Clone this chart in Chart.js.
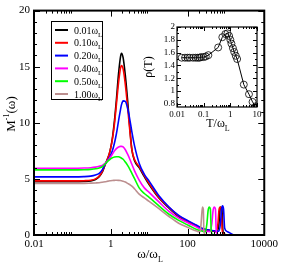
<!DOCTYPE html>
<html>
<head>
<meta charset="UTF-8">
<title>Inverse memory function</title>
<script src="https://cdn.jsdelivr.net/npm/chart.js"></script>
<style>
  body { margin: 0; background: #fff; }
  #wrap { position: relative; width: 281px; height: 266px; }
  #main { position: absolute; left: 0; top: 0; }
  #inset { position: absolute; left: 140px; top: 10px; }
</style>
</head>
<body>
<div id="wrap">
  <canvas id="main" width="281" height="266"></canvas>
  <canvas id="inset" width="141" height="125"></canvas>
</div>
<script>
// shared frequency grid (omega / omega_L) for the smooth part
const omega = [0.01, 0.1, 0.2, 0.3, 0.4, 0.5, 0.6, 0.72, 0.85, 0.96, 1.1, 1.25, 1.4, 1.6, 1.8, 1.9, 2.1, 2.4, 2.75, 3.1, 3.55, 4.2, 5.5, 7.5, 10, 18, 33, 59, 107, 173];

const m001 = [4.75, 4.75, 4.77, 4.82, 4.95, 5.2, 5.6, 6.3, 6.9, 7.5, 8.6, 10.2, 12.0, 14.4, 15.9, 16.2, 15.8, 14.2, 12.0, 9.8, 7.6, 6.6, 6.0, 5.2, 4.5, 3.3, 2.4, 1.65, 1.15, 0.8];
const m010 = [4.82, 4.82, 4.84, 4.88, 5.0, 5.25, 5.65, 6.3, 6.9, 7.5, 8.5, 9.9, 11.6, 13.6, 14.9, 15.1, 14.8, 13.4, 11.4, 9.5, 7.6, 6.7, 6.1, 5.3, 4.6, 3.35, 2.45, 1.7, 1.18, 0.82];
const m020 = [5.18, 5.18, 5.2, 5.25, 5.35, 5.5, 5.8, 6.35, 6.7, 7.0, 7.5, 8.2, 9.0, 10.2, 11.2, 11.6, 11.95, 11.9, 11.3, 10.4, 9.2, 7.9, 6.4, 5.4, 4.8, 3.5, 2.5, 1.75, 1.24, 0.87];
const m040 = [5.95, 5.95, 5.97, 6.0, 6.05, 6.12, 6.2, 6.4, 6.65, 6.9, 7.2, 7.5, 7.7, 7.85, 7.9, 7.9, 7.85, 7.6, 7.2, 6.8, 6.3, 5.7, 4.9, 4.2, 3.8, 2.95, 2.1, 1.5, 1.05, 0.7];
const m050 = [5.8, 5.8, 5.82, 5.85, 5.9, 5.98, 6.08, 6.35, 6.6, 6.75, 6.88, 6.95, 6.98, 6.97, 6.9, 6.85, 6.75, 6.5, 6.2, 5.9, 5.5, 5.0, 4.2, 3.7, 3.35, 2.6, 1.85, 1.3, 0.85, 0.5];
const m100 = [4.6, 4.6, 4.6, 4.62, 4.64, 4.66, 4.7, 4.75, 4.8, 4.83, 4.86, 4.87, 4.88, 4.87, 4.85, 4.83, 4.8, 4.72, 4.6, 4.5, 4.35, 4.1, 3.65, 3.3, 3.0, 2.35, 1.65, 1.05, 0.65, 0.35];

// high-frequency cut-off spikes, one pair of arrays per temperature
const s001W = [236, 400, 600, 660, 700, 740, 790, 830, 880, 1100];
const s001M = [0.55, 0.38, 0.3, 1.0, 2.2, 2.5, 2.3, 0.5, 0.1, 0];
const s010W = [236, 400, 560, 620, 660, 710, 760, 800, 850, 1100];
const s010M = [0.57, 0.4, 0.32, 1.0, 2.2, 2.5, 2.3, 0.5, 0.1, 0];
const s020W = [236, 400, 650, 720, 770, 815, 870, 930, 1100, 1500, 1700];
const s020M = [0.6, 0.42, 0.34, 1.0, 2.2, 2.6, 2.3, 0.6, 0.3, 0.05, 0];
const s040W = [236, 380, 430, 465, 500, 535, 560, 600, 800];
const s040M = [0.45, 0.3, 1.0, 2.2, 2.5, 2.3, 0.4, 0.05, 0];
const s050W = [236, 290, 320, 345, 370, 395, 415, 450, 600];
const s050M = [0.35, 0.28, 1.0, 2.2, 2.5, 2.3, 0.4, 0.05, 0];
const s100W = [200, 215, 228, 245, 258, 268, 290, 400];
const s100M = [0.3, 0.3, 1.2, 2.5, 2.3, 0.3, 0.05, 0];

const temps = ['0.01', '0.10', '0.20', '0.40', '0.50', '1.00'];
const colors = ['#000000', '#ff0000', '#0000ff', '#ff00ff', '#00ff00', '#bc8f8f'];
const smooth = [m001, m010, m020, m040, m050, m100];
const spikeW = [s001W, s010W, s020W, s040W, s050W, s100W];
const spikeM = [s001M, s010M, s020M, s040M, s050M, s100M];

const xTicks = [0.01, 1, 100, 10000];
const yTicks = [0, 5, 10, 15, 20];

// inset: rho(T)
const tempT = [0.015, 0.02, 0.025, 0.03, 0.04, 0.05, 0.06, 0.07, 0.08, 0.1, 0.12, 0.15, 0.35, 0.5, 0.65, 0.78, 0.9, 1.0, 1.1, 1.25, 1.4, 1.6, 1.8, 3.2, 5.0, 6.8, 8.9];
const rho = [1.52, 1.52, 1.52, 1.52, 1.52, 1.52, 1.52, 1.52, 1.53, 1.53, 1.54, 1.56, 1.68, 1.84, 1.89, 1.9, 1.86, 1.8, 1.74, 1.67, 1.61, 1.55, 1.5, 1.1, 0.95, 0.83, 0.76];
const insetXTicks = [0.01, 0.1, 1, 10];
const insetYTicks = [0.8, 1, 1.2, 1.4, 1.6, 1.8, 2];

Chart.defaults.font.family = "'Liberation Serif', 'DejaVu Serif', serif";
Chart.defaults.color = '#000';

function serif(size) { return size + "px 'Liberation Serif', serif"; }

// draws text made of [string, 'n' | 'sub' | 'sup'] parts
function drawRich(ctx, parts, x, y, size) {
  const small = Math.round(size * 0.65);
  let w = 0;
  parts.forEach(p => { ctx.font = serif(p[1] === 'n' ? size : small); w += ctx.measureText(p[0]).width; });
  let cx = x - w / 2;
  ctx.textAlign = 'left';
  ctx.textBaseline = 'alphabetic';
  parts.forEach(p => {
    ctx.font = serif(p[1] === 'n' ? size : small);
    const dy = p[1] === 'sub' ? size * 0.3 : p[1] === 'sup' ? -size * 0.45 : 0;
    ctx.fillText(p[0], cx, y + dy);
    cx += ctx.measureText(p[0]).width;
  });
}

function logMinors(decades) {
  const out = [];
  decades.forEach(d => { for (let k = 2; k <= 9; k++) out.push(k * d); });
  return out;
}

// frame with inward ticks on all four sides
function frameTicks(o) {
  return {
    id: 'frameTicks',
    afterDatasetsDraw(chart) {
      const { ctx, chartArea: a, scales: { x, y } } = chart;
      ctx.save();
      ctx.strokeStyle = '#000';
      ctx.lineWidth = 1;
      ctx.beginPath();
      const xt = (vals, len) => vals.forEach(v => {
        const p = Math.round(x.getPixelForValue(v)) + 0.5;
        ctx.moveTo(p, a.bottom); ctx.lineTo(p, a.bottom - len);
        ctx.moveTo(p, a.top); ctx.lineTo(p, a.top + len);
      });
      const yt = (vals, len) => vals.forEach(v => {
        const p = Math.round(y.getPixelForValue(v)) + 0.5;
        ctx.moveTo(a.left, p); ctx.lineTo(a.left + len, p);
        ctx.moveTo(a.right, p); ctx.lineTo(a.right - len, p);
      });
      xt(o.xMajor, o.major); xt(o.xMinor, o.minor);
      yt(o.yMajor, o.major); yt(o.yMinor, o.minor);
      ctx.stroke();
      ctx.lineWidth = o.frame;
      ctx.strokeRect(a.left, a.top, a.right - a.left, a.bottom - a.top);
      ctx.restore();
    }
  };
}

const mainDecor = {
  id: 'mainDecor',
  afterDraw(chart) {
    const ctx = chart.ctx;
    ctx.save();
    ctx.fillStyle = '#000';
    drawRich(ctx, [['ω/ω', 'n'], ['L', 'sub']], 150, 258, 13);
    ctx.translate(15, 114);
    ctx.rotate(-Math.PI / 2);
    drawRich(ctx, [['M', 'n'], ['-1', 'sup'], ['(ω)', 'n']], 0, 0, 13);
    ctx.restore();

    // legend box
    ctx.save();
    ctx.strokeStyle = '#000';
    ctx.lineWidth = 1;
    ctx.fillStyle = '#fff';
    ctx.fillRect(51.5, 21.5, 51, 78);
    ctx.strokeRect(51.5, 21.5, 51, 78);
    temps.forEach((t, i) => {
      const yy = 30 + i * 12.8;
      ctx.strokeStyle = colors[i];
      ctx.lineWidth = 2;
      ctx.beginPath();
      ctx.moveTo(55, yy); ctx.lineTo(68, yy);
      ctx.stroke();
      ctx.fillStyle = '#000';
      ctx.font = serif(10);
      ctx.textAlign = 'left';
      ctx.textBaseline = 'alphabetic';
      const label = t + 'ω';
      ctx.fillText(label, 74, yy + 3.5);
      const w = ctx.measureText(label).width;
      ctx.font = serif(7);
      ctx.fillText('L', 74 + w, yy + 6.5);
    });
    ctx.restore();
  }
};

const datasets = temps.map((t, i) => ({
  label: t + 'ωL',
  data: omega.map((w, j) => ({ x: w, y: smooth[i][j] }))
    .concat(spikeW[i].map((w, j) => ({ x: w, y: spikeM[i][j] }))),
  borderColor: colors[i],
  borderWidth: 1.6,
  pointRadius: 0,
  cubicInterpolationMode: 'monotone',
  order: temps.length - i
}));

new Chart(document.getElementById('main'), {
  type: 'line',
  data: { datasets },
  options: {
    responsive: false,
    animation: false,
    layout: { padding: { left: 0, right: 15, top: 5, bottom: 0 } },
    plugins: { legend: { display: false }, tooltip: { enabled: false } },
    scales: {
      x: {
        type: 'logarithmic', min: 0.01, max: 10000,
        grid: { display: false, drawTicks: false }, border: { display: false },
        afterBuildTicks: s => { s.ticks = xTicks.map(v => ({ value: v })); },
        afterFit: s => { s.height = 31; },
        ticks: { font: { size: 11 }, padding: 3, maxRotation: 0, autoSkip: false, callback: v => String(v) }
      },
      y: {
        min: 0, max: 20,
        grid: { display: false, drawTicks: false }, border: { display: false },
        afterBuildTicks: s => { s.ticks = yTicks.map(v => ({ value: v })); },
        afterFit: s => { s.width = 34; },
        ticks: { font: { size: 11 }, padding: 4, autoSkip: false }
      }
    }
  },
  plugins: [frameTicks({
    xMajor: xTicks, xMinor: logMinors([0.01, 1, 100]),
    yMajor: yTicks, yMinor: [1, 2, 3, 4, 6, 7, 8, 9, 11, 12, 13, 14, 16, 17, 18, 19],
    major: 6, minor: 3, frame: 2
  }), mainDecor]
});

const insetDecor = {
  id: 'insetDecor',
  afterDraw(chart) {
    const ctx = chart.ctx;
    ctx.save();
    ctx.fillStyle = '#000';
    drawRich(ctx, [['T/ω', 'n'], ['L', 'sub']], 78, 117, 12);
    ctx.translate(12, 57);
    ctx.rotate(-Math.PI / 2);
    drawRich(ctx, [['ρ(T)', 'n']], 0, 0, 12);
    ctx.restore();
  }
};

new Chart(document.getElementById('inset'), {
  type: 'line',
  data: {
    datasets: [{
      data: tempT.map((t, i) => ({ x: t, y: rho[i] })),
      borderColor: '#000',
      borderWidth: 1,
      pointRadius: 3.5,
      pointBorderWidth: 0.8,
      pointBorderColor: '#000',
      pointBackgroundColor: 'rgba(0,0,0,0)',
      tension: 0
    }]
  },
  options: {
    responsive: false,
    animation: false,
    layout: { padding: { left: 0, right: 24, top: 17, bottom: 0 } },
    plugins: { legend: { display: false }, tooltip: { enabled: false } },
    scales: {
      x: {
        type: 'logarithmic', min: 0.01, max: 10,
        grid: { display: false, drawTicks: false }, border: { display: false },
        afterBuildTicks: s => { s.ticks = insetXTicks.map(v => ({ value: v })); },
        afterFit: s => { s.height = 28; },
        ticks: { font: { size: 9 }, padding: 2, maxRotation: 0, autoSkip: false, callback: v => String(v) }
      },
      y: {
        min: 0.75, max: 2,
        grid: { display: false, drawTicks: false }, border: { display: false },
        afterBuildTicks: s => { s.ticks = insetYTicks.map(v => ({ value: v })); },
        afterFit: s => { s.width = 37; },
        ticks: { font: { size: 9 }, padding: 2, autoSkip: false, callback: v => String(v) }
      }
    }
  },
  plugins: [frameTicks({
    xMajor: insetXTicks, xMinor: logMinors([0.01, 0.1, 1]),
    yMajor: insetYTicks, yMinor: [0.9, 1.1, 1.3, 1.5, 1.7, 1.9],
    major: 4, minor: 2, frame: 1.2
  }), insetDecor]
});
</script>
</body>
</html>
